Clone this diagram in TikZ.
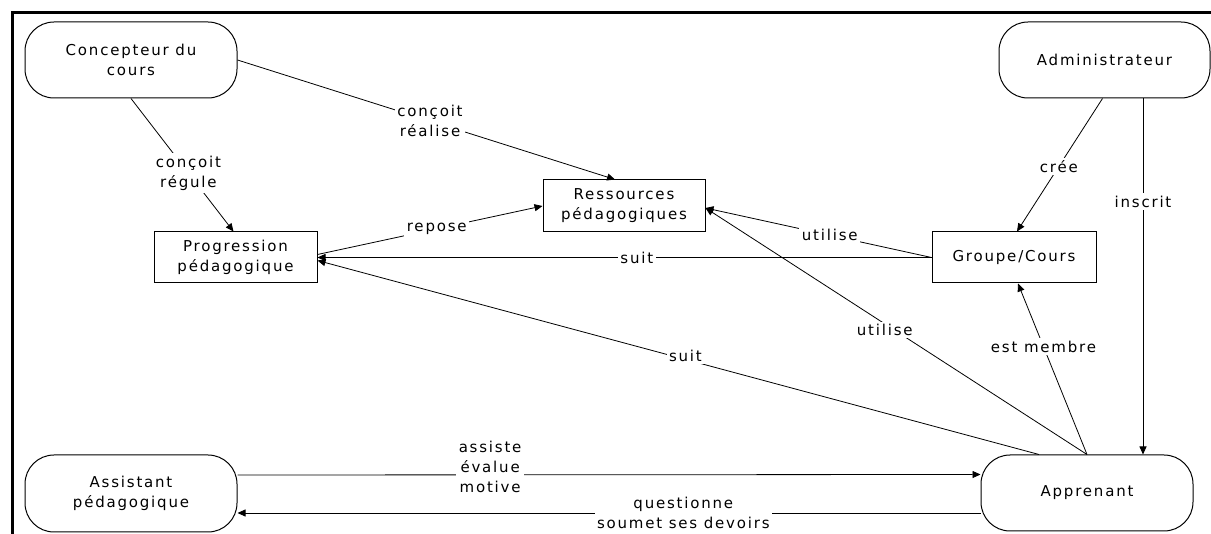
\documentclass[tikz,border=0pt]{standalone}
\usepackage{fontspec}
\setmainfont{DejaVu Sans}[LetterSpace=12]
\usetikzlibrary{arrows.meta}
\begin{document}
\begin{tikzpicture}[x=1pt,y=-1pt,
  every node/.style={font=\fontsize{15}{20}\selectfont},
  actor/.style={draw,line width=1pt,rounded corners=29pt,minimum width=212pt,minimum height=76pt,align=center,inner sep=0pt},
  entity/.style={draw,line width=1pt,minimum height=51pt,align=center,inner sep=0pt},
  lab/.style={fill=white,align=center,inner sep=2.5pt},
  conn/.style={line width=0.8pt,-{Triangle[length=8pt,width=7pt]}}]
\useasboundingbox (0,0) rectangle (1211,534);
\draw[line width=3pt] (12,534) -- (12,13) -- (1211,13);
% nodes
\node[actor] (conc) at (131,60) {Concepteur du\\cours};
\node[actor,minimum width=211pt] (admin) at (1104.5,60) {Administrateur};
\node[entity,minimum width=163pt] (prog) at (235.5,257.5) {Progression\\pédagogique};
\node[entity,minimum width=162pt,minimum height=52pt] (res) at (624,206) {Ressources\\pédagogiques};
\node[entity,minimum width=164pt] (grp) at (1014,257.5) {Groupe/Cours};
\node[actor,minimum height=77pt] (asst) at (131,493.5) {Assistant\\pédagogique};
\node[actor] (app) at (1087,493) {Apprenant};
% connectors
\draw[conn] (conc.east) -- node[lab,pos=0.51] {conçoit\\réalise} ([xshift=-9pt]res.north);
\draw[conn] (conc.south) -- node[lab,pos=0.56] {conçoit\\régule} ([xshift=-2pt]prog.north);
\draw[conn] ([yshift=3pt]prog.east) -- node[lab,pos=0.53] {repose} (res.west);
\draw[conn] (grp.west) -- node[lab,pos=0.48] {suit} (prog.east);
\draw[conn] (grp.west) -- node[lab,pos=0.45] {utilise} ([yshift=-2pt]res.east);
\draw[conn] (app.north) -- node[lab,pos=0.53,yshift=-6pt] {utilise} ([yshift=-2pt]res.east);
\draw[conn] ([xshift=-48pt]app.north) -- node[lab,pos=0.49,yshift=4pt] {suit} ([yshift=-3pt]prog.east);
\draw[conn] (app.north) -- node[lab,pos=0.63] {est membre} ([xshift=4pt]grp.south);
\draw[conn] ([xshift=-2pt]admin.south) -- node[lab,pos=0.51] {crée} ([xshift=3pt]grp.north);
\draw[conn] ([xshift=38.5pt]admin.south) -- node[lab,pos=0.29] {inscrit} ([xshift=38.5pt]admin.south |- app.north);
\draw[conn] ([yshift=18.5pt]asst.east) -- node[lab,pos=0.34,yshift=8pt] {assiste\\évalue\\motive} ([yshift=18.5pt]app.west);
\draw[conn] ([yshift=-20pt]app.west) -- node[lab,pos=0.4] {questionne\\soumet ses devoirs} ([yshift=-19.5pt]asst.east);
\end{tikzpicture}
\end{document}
